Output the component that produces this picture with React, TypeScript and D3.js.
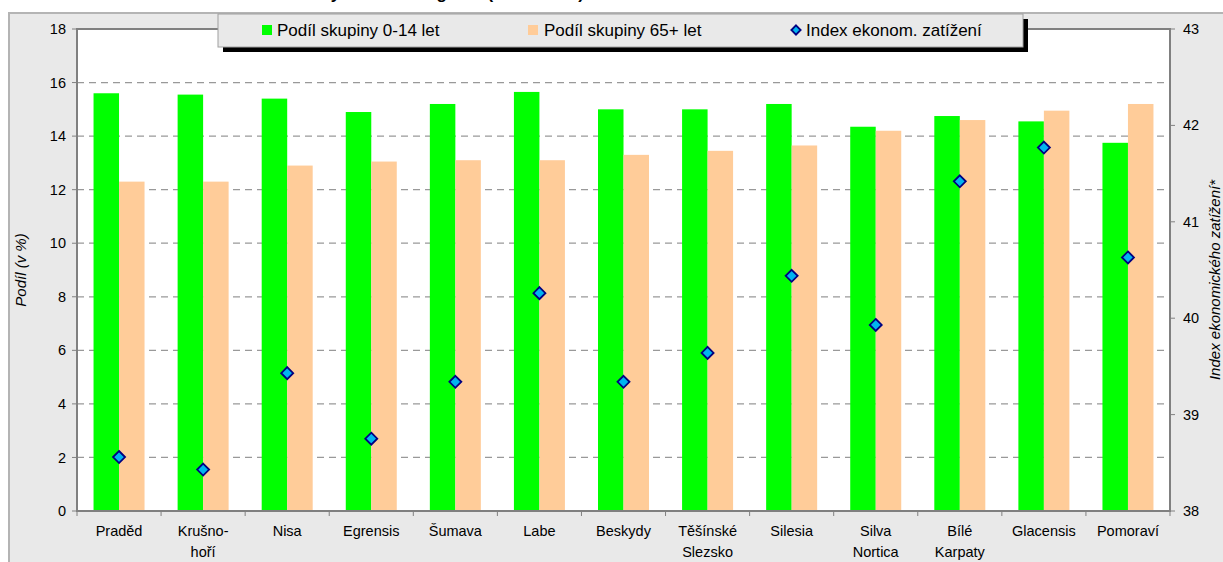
import React from "react";
import * as d3 from "d3";

const categories = [
  ["Praděd"], ["Krušno-", "hoří"], ["Nisa"], ["Egrensis"], ["Šumava"], ["Labe"],
  ["Beskydy"], ["Těšínské", "Slezsko"], ["Silesia"], ["Silva", "Nortica"],
  ["Bílé", "Karpaty"], ["Glacensis"], ["Pomoraví"],
];
const share0to14 = [15.6, 15.55, 15.4, 14.9, 15.2, 15.65, 15.0, 15.0, 15.2, 14.35, 14.75, 14.55, 13.75];
const share65plus = [12.3, 12.3, 12.9, 13.05, 13.1, 13.1, 13.3, 13.45, 13.65, 14.2, 14.6, 14.95, 15.2];
const dependencyIndex = [38.56, 38.43, 39.43, 38.75, 39.34, 40.26, 39.34, 39.64, 40.44, 39.93, 41.42, 41.77, 40.63];
const leftTicks = [0, 2, 4, 6, 8, 10, 12, 14, 16, 18];
const rightTicks = [38, 39, 40, 41, 42, 43];
const legendLabels = ["Podíl skupiny 0-14 let", "Podíl skupiny 65+ let", "Index ekonom. zatížení"];

const FONT = "'Liberation Sans', Arial, sans-serif";

export default function App() {
  const left = 77, right = 1170, top = 29, bottom = 511;
  const x = d3.scaleBand<number>().domain(d3.range(categories.length)).range([left, right]);
  const y = d3.scaleLinear().domain([0, 18]).range([bottom, top]);
  const y2 = d3.scaleLinear().domain([38, 43]).range([bottom, top]);
  const bw = 25.5;
  const diamond = d3.symbol().type(d3.symbolDiamond2).size(92);

  return (
    <svg width={1223} height={562} style={{ position: "absolute", left: 0, top: 0 }} fontFamily={FONT}>
      <rect x={9} y={13} width={1230} height={560} fill="#e9e9e9" stroke="#b4b4b4" strokeWidth={2} />
      <text x={584} y={-1.5} textAnchor="end" fontSize={17} fontWeight="bold">Věková struktura obyvatel euroregionů (31.12.2006)</text>
      <rect x={left} y={top} width={right - left} height={bottom - top} fill="#fff" />
      {leftTicks.filter(t => t > 0 && t < 18).map(t => (
        <line key={t} x1={left} x2={right} y1={y(t)} y2={y(t)} stroke="#999" strokeWidth={1.3} strokeDasharray="7,5" />
      ))}
      {share0to14.map((v, i) => (
        <rect key={"g" + i} x={x(i)! + x.bandwidth() / 2 - bw} y={y(v)} width={bw} height={y(0) - y(v)} fill="#00ff00" />
      ))}
      {share65plus.map((v, i) => (
        <rect key={"o" + i} x={x(i)! + x.bandwidth() / 2} y={y(v)} width={bw} height={y(0) - y(v)} fill="#ffcc99" />
      ))}
      <rect x={left} y={top} width={right - left} height={bottom - top} fill="none" stroke="#808080" strokeWidth={2} />
      {dependencyIndex.map((v, i) => (
        <path key={"d" + i} d={diamond()!} transform={`translate(${x(i)! + x.bandwidth() / 2},${y2(v)})`} fill="#00b4f0" stroke="#000080" strokeWidth={1.8} />
      ))}
      {leftTicks.map(t => (
        <g key={"lt" + t}>
          <line x1={left - 5} x2={left} y1={y(t)} y2={y(t)} stroke="#808080" strokeWidth={1} />
          <text x={left - 11} y={y(t)} dy="0.35em" textAnchor="end" fontSize={14.5}>{t}</text>
        </g>
      ))}
      {rightTicks.map(t => (
        <g key={"rt" + t}>
          <line x1={right} x2={right + 5} y1={y2(t)} y2={y2(t)} stroke="#808080" strokeWidth={1} />
          <text x={right + 13} y={y2(t)} dy="0.35em" textAnchor="start" fontSize={14.5}>{t}</text>
        </g>
      ))}
      {d3.range(categories.length + 1).map(i => (
        <line key={"xt" + i} x1={left + i * x.step()} x2={left + i * x.step()} y1={bottom} y2={bottom + 5} stroke="#808080" strokeWidth={1} />
      ))}
      {categories.map((c, i) => (
        <text key={"c" + i} x={x(i)! + x.bandwidth() / 2} y={536} textAnchor="middle" fontSize={14.5}>
          {c.map((line, j) => (
            <tspan key={j} x={x(i)! + x.bandwidth() / 2} dy={j === 0 ? 0 : 21}>{line}</tspan>
          ))}
        </text>
      ))}
      <text transform={`translate(26,${(top + bottom) / 2}) rotate(-90)`} textAnchor="middle" fontSize={15} fontStyle="italic">Podíl (v %)</text>
      <text transform={`translate(1220,${(top + bottom) / 2 + 10}) rotate(-90)`} textAnchor="middle" fontSize={15} fontStyle="italic">Index ekonomického zatížení*</text>
      <g>
        <rect x={223} y={19} width={805} height={33} fill="#000" />
        <rect x={218} y={14} width={805} height={33} fill="#e9e9e9" stroke="#a0a0a0" strokeWidth={1} />
        <rect x={262} y={25} width={10} height={10} fill="#00ff00" />
        <text x={277} y={36} fontSize={17}>{legendLabels[0]}</text>
        <rect x={528} y={25} width={10} height={10} fill="#ffcc99" />
        <text x={544} y={36} fontSize={17}>{legendLabels[1]}</text>
        <path d={d3.symbol().type(d3.symbolDiamond2).size(55)()!} transform="translate(796,30)" fill="#00b4f0" stroke="#000080" strokeWidth={1.8} />
        <text x={806} y={36} fontSize={17}>{legendLabels[2]}</text>
      </g>
    </svg>
  );
}
